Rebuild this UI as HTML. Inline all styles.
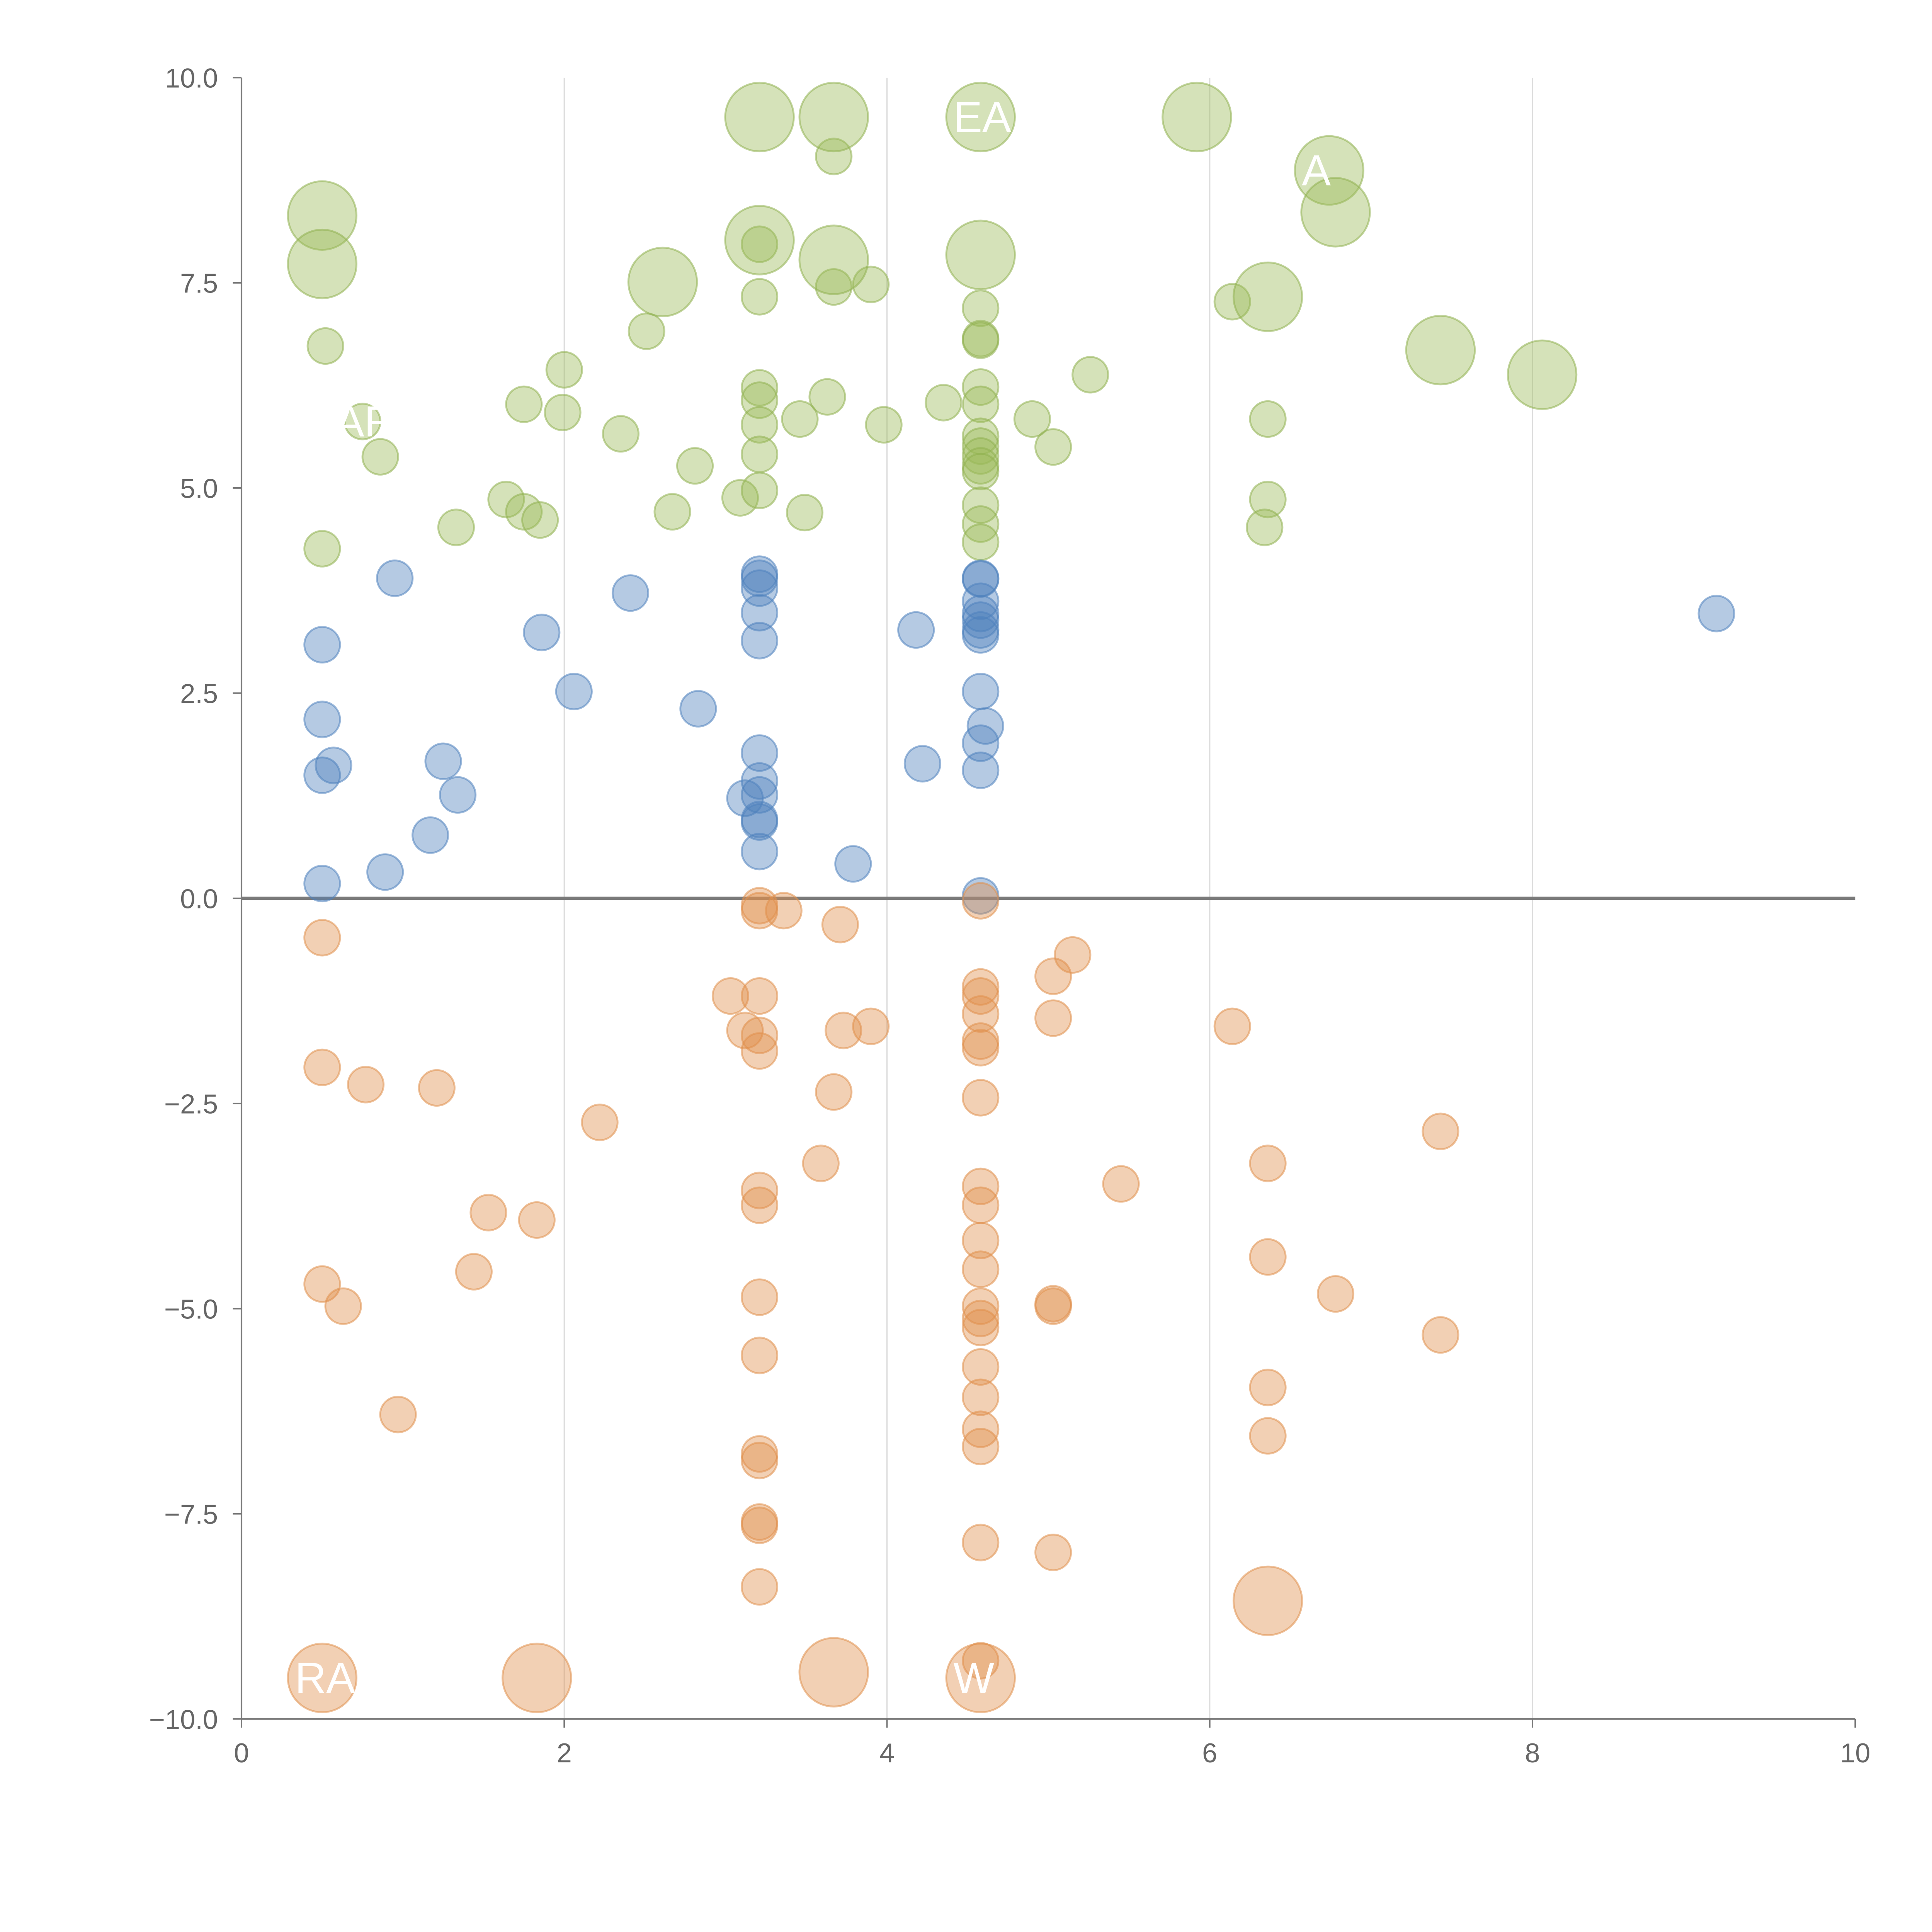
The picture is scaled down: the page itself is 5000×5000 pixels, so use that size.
<!DOCTYPE html>
<html><head><meta charset="utf-8"><style>
html,body{margin:0;padding:0;background:#fff;}
svg{display:block;}
text{font-family:"Liberation Sans",Arial,sans-serif;}
</style></head><body>
<svg id="chart" width="5000" height="5000" viewBox="0 0 1560 1560" xmlns="http://www.w3.org/2000/svg">
<rect width="1560" height="1560" fill="#fff"/>
<g id="grid"></g>
<g id="axes"></g>
<g id="marks"></g>
<g id="labels"></g>
</svg>
<script>
const NS="http://www.w3.org/2000/svg";
const xTicks=[0,2,4,6,8,10];
const yTicks=[10,7.5,5,2.5,0,-2.5,-5,-7.5,-10];
const yTickLabels=["10.0","7.5","5.0","2.5","0.0","\u22122.5","\u22125.0","\u22127.5","\u221210.0"];
const greenX=[3.67,3.21,0.52,0.75,0.86,0.50,1.33,1.64,1.75,1.85,1.75,2.00,1.99,2.35,2.51,2.67,2.81,3.09,3.21,3.21,3.21,3.21,3.21,3.21,3.46,3.49,3.63,3.67,3.90,3.98,4.35,4.58,4.58,4.58,4.58,4.58,4.58,4.58,4.58,4.58,4.58,4.58,4.58,4.58,4.90,5.03,5.26,6.14,6.36,6.36,6.34,
3.21,3.67,4.58,5.92,6.74,6.78,0.50,0.50,3.21,3.67,4.58,2.61,6.36,7.43,8.06];
const greenY=[9.04,7.97,6.73,5.81,5.38,4.26,4.52,4.86,4.71,4.61,6.02,6.44,5.92,5.66,6.91,4.71,5.27,4.88,7.33,6.22,6.07,5.77,5.41,4.97,5.84,4.70,6.11,7.45,7.48,5.77,6.04,7.19,6.82,6.80,6.23,6.02,5.63,5.51,5.39,5.27,5.20,4.79,4.56,4.34,5.84,5.50,6.38,7.27,5.84,4.86,4.52,
9.52,9.52,9.52,9.52,8.87,8.36,8.32,7.73,8.02,7.78,7.84,7.51,7.33,6.68,6.38];
const greenSize=[1,1,1,1,1,1,1,1,1,1,1,1,1,1,1,1,1,1,1,1,1,1,1,1,1,1,1,1,1,1,1,1,1,1,1,1,1,1,1,1,1,1,1,1,1,1,1,1,1,1,1,
3.7,3.7,3.7,3.7,3.7,3.7,3.7,3.7,3.7,3.7,3.7,3.7,3.7,3.7,3.7];
const blueX=[0.95,0.50,0.50,0.57,0.50,0.50,0.89,1.17,1.25,1.34,1.86,2.06,2.41,2.83,3.21,3.21,3.21,3.21,3.21,3.21,3.21,3.21,3.12,3.21,3.21,3.21,3.79,4.18,4.22,4.58,4.58,4.58,4.58,4.58,4.58,4.58,4.58,4.61,4.58,4.58,4.58,9.14];
const blueY=[3.90,3.09,2.18,1.62,1.50,0.18,0.32,0.77,1.67,1.26,3.24,2.52,3.72,2.31,3.95,3.90,3.78,3.48,3.14,1.77,1.43,1.26,1.22,0.96,0.93,0.57,0.42,3.27,1.64,3.90,3.89,3.62,3.47,3.39,3.27,3.21,2.52,2.10,1.89,1.56,0.03,3.47];
const orangeX=[0.50,0.50,0.77,1.21,2.22,1.53,1.83,1.44,0.50,0.63,0.97,3.21,3.21,3.36,3.71,3.03,3.21,3.12,3.21,3.21,3.73,3.90,3.67,3.59,3.21,3.21,3.21,3.21,3.21,3.21,3.21,3.21,3.21,4.58,4.58,4.58,4.58,4.58,4.58,4.58,4.58,4.58,4.58,4.58,4.58,4.58,4.58,4.58,4.58,4.58,4.58,4.58,4.58,5.03,5.15,5.03,5.03,5.03,5.03,5.45,6.14,6.36,6.36,6.36,6.36,6.78,7.43,7.43,
0.50,1.83,3.67,4.58,6.36];
const orangeY=[-0.48,-2.06,-2.27,-2.31,-2.73,-3.83,-3.92,-4.55,-4.70,-4.97,-6.29,-0.09,-0.15,-0.15,-0.32,-1.19,-1.19,-1.61,-1.67,-1.86,-1.61,-1.56,-2.36,-3.23,-3.56,-3.74,-4.86,-5.57,-6.77,-6.85,-7.60,-7.64,-8.39,-0.03,-1.08,-1.19,-1.41,-1.74,-1.82,-2.43,-3.51,-3.74,-4.17,-4.52,-4.97,-5.12,-5.23,-5.71,-6.08,-6.47,-6.68,-7.85,-9.29,-0.95,-0.69,-1.46,-4.94,-4.97,-7.97,-3.48,-1.56,-3.23,-4.37,-5.96,-6.55,-4.82,-2.84,-5.32,
-9.50,-9.50,-9.43,-9.50,-8.56];
const orangeSize=orangeX.map((_,i)=>i>=orangeX.length-5?3.7:1);
const labelText=["EA","A","RA","W","AF"];
const labelX=[4.58,6.74,0.50,4.58,0.75];
const labelY=[9.52,8.87,-9.50,-9.50,5.81];

const X0=195,X1=1498,Y0=1388,Y1=62.7;
const sx=v=>X0+(v-0)/(10-0)*(X1-X0);
const sy=v=>Y0-(v+10)/20*(Y0-Y1);
const rs=s=>14.4*Math.sqrt(s);
function mk(tag,attrs,parent){const e=document.createElementNS(NS,tag);for(const k in attrs)e.setAttribute(k,attrs[k]);parent.appendChild(e);return e;}
const grid=document.getElementById('grid'),axes=document.getElementById('axes'),marks=document.getElementById('marks'),labels=document.getElementById('labels');
xTicks.forEach(t=>{
  if(t>0&&t<10){const l=mk('line',{x1:sx(t),x2:sx(t),y1:Y1,y2:Y0,stroke:'#dcdcdc','stroke-width':1},grid);
  
  }
  const tk=mk('line',{x1:sx(t),x2:sx(t),y1:Y0,y2:Y0+7,stroke:'#777','stroke-width':1.2},axes);
  
  
  const tx=mk('text',{x:sx(t),y:Y0+35,'text-anchor':'middle','font-size':22,fill:'#666'},axes);tx.textContent=String(t);
  
  
});
yTicks.forEach((t,i)=>{
  const tk=mk('line',{x1:X0-7,x2:X0,y1:sy(t),y2:sy(t),stroke:'#777','stroke-width':1.2},axes);
  
  
  const tx=mk('text',{x:X0-19,y:sy(t)+8,'text-anchor':'end','font-size':22,fill:'#666'},axes);tx.textContent=yTickLabels[i];
  
  
});
let a=mk('line',{x1:X0,x2:X0,y1:Y1,y2:Y0,stroke:'#777','stroke-width':1.3},axes);


a=mk('line',{x1:X0,x2:X1,y1:Y0,y2:Y0,stroke:'#777','stroke-width':1.3},axes);


a=mk('line',{x1:X0,x2:X1,y1:sy(0),y2:sy(0),stroke:'#7a7a7a','stroke-width':2.6},axes);


function series(xs,ys,ss,fill,stroke,name){
  xs.forEach((x,i)=>{
    const c=mk('circle',{cx:sx(x),cy:sy(ys[i]),r:rs(ss[i]),fill:fill,'fill-opacity':0.42,stroke:stroke,'stroke-opacity':0.55,'stroke-width':1.5},marks);
    
    
  });
}
series(greenX,greenY,greenSize,'#9bbb59','#8fb050','point-positive-high');
series(blueX,blueY,blueX.map(()=>1),'#4f81bd','#4f81bd','point-positive-low');
series(orangeX,orangeY,orangeSize,'#e0904c','#e0904c','point-negative');
labelText.forEach((t,i)=>{
  const tx=mk('text',{x:sx(labelX[i])-22,y:sy(labelY[i])+12,'font-size':35,fill:'#fff'},labels);tx.textContent=t;
  
  
});
</script>
</body></html>
